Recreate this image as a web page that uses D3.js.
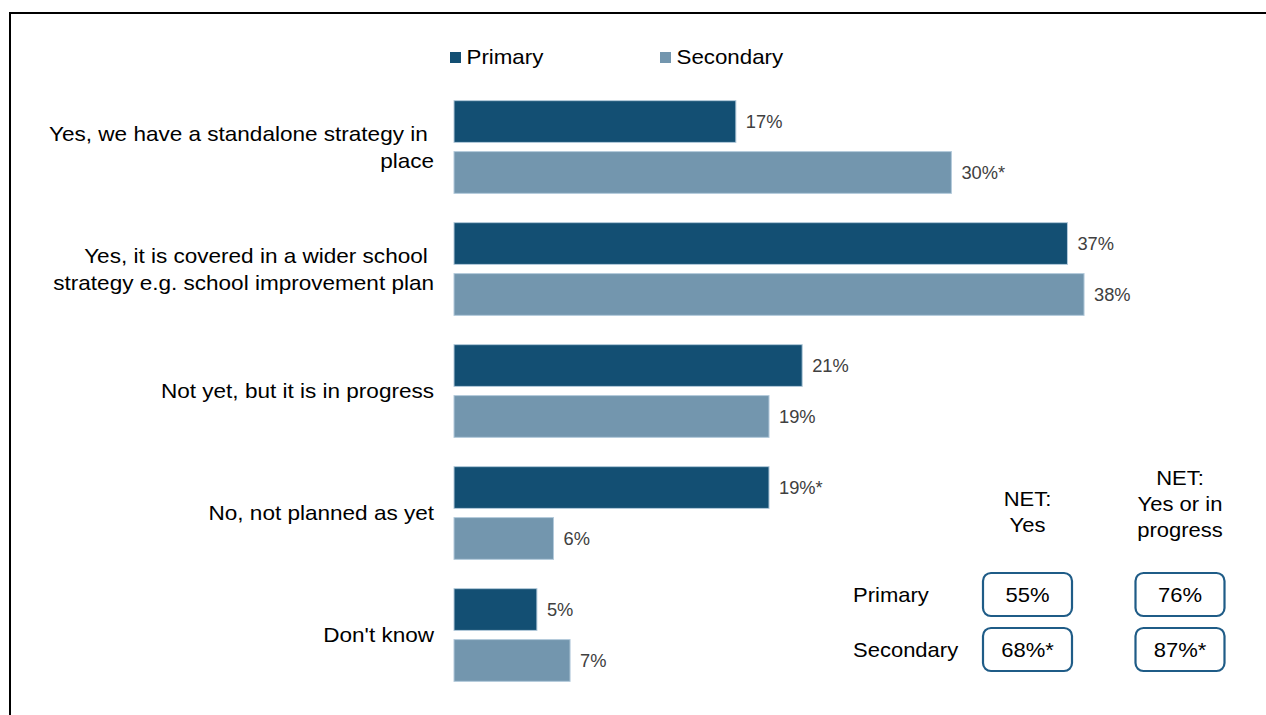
<!DOCTYPE html>
<html>
<head>
<meta charset="utf-8">
<script src="https://cdn.jsdelivr.net/npm/d3@7"></script>
<style>
  html, body { margin: 0; padding: 0; background: #fff; }
  svg { display: block; }
  text { font-family: "Liberation Sans", Arial, sans-serif; white-space: pre; }
</style>
</head>
<body>
<svg id="chart" width="1266" height="715"></svg>
<script>
// Survey responses: does the school have a strategy in place?
const categories = [
  "Yes, we have a standalone strategy in place",
  "Yes, it is covered in a wider school strategy e.g. school improvement plan",
  "Not yet, but it is in progress",
  "No, not planned as yet",
  "Don't know"
];
// wrapped lines keep the trailing space left by the line break
const categoryLines = [
  ["Yes, we have a standalone strategy in ", "place"],
  ["Yes, it is covered in a wider school ", "strategy e.g. school improvement plan"],
  ["Not yet, but it is in progress"],
  ["No, not planned as yet"],
  ["Don't know"]
];
const seriesNames = ["Primary", "Secondary"];
const primaryValues = [17, 37, 21, 19, 5];
const secondaryValues = [30, 38, 19, 6, 7];
// significance markers appended to the value labels
const primaryFlags = ["", "", "", "*", ""];
const secondaryFlags = ["*", "", "", "", ""];

// NET summary table
const netHeaders = [["NET:", "Yes"], ["NET:", "Yes or in", "progress"]];
const netRowNames = ["Primary", "Secondary"];
const netPrimary = ["55%", "76%"];
const netSecondary = ["68%*", "87%*"];

const colors = { Primary: "#134f73", Secondary: "#7396ae" };
const STRETCH = 1.1;

const svg = d3.select("#chart");

// outer frame (only top and left edges fall inside the view)
svg.append("rect")
  .attr("x", 10).attr("y", 13)
  .attr("width", 1300).attr("height", 800)
  .attr("fill", "none").attr("stroke", "#000").attr("stroke-width", 2);

// helper for the slightly wide label text
function wideText(g, x, y, str, anchor, size, color) {
  return g.append("text")
    .attr("transform", `translate(${x},${y}) scale(${STRETCH},1)`)
    .attr("text-anchor", anchor)
    .attr("font-size", size)
    .attr("fill", color || "#000")
    .text(str);
}

// scales
const x = d3.scaleLinear().domain([0, 40]).range([454, 454 + 40 * 16.58]);
const y = d3.scaleBand().domain(categories).range([86, 696])
  .paddingInner(0.24).paddingOuter(0.12);
const ySub = d3.scaleBand().domain(seriesNames).range([0, y.bandwidth()])
  .paddingInner(0.18);

// legend
const legend = svg.append("g");
const legendX = [450, 660];
seriesNames.forEach((s, i) => {
  legend.append("rect")
    .attr("x", legendX[i]).attr("y", 52)
    .attr("width", 11).attr("height", 11)
    .attr("fill", colors[s]);
  wideText(legend, legendX[i] + 16.5, 63.5, s, "start", 20.3);
});

// bars
const rows = categories.map((c, i) => ({
  cat: c,
  lines: categoryLines[i],
  vals: [
    { s: "Primary", v: primaryValues[i], flag: primaryFlags[i] },
    { s: "Secondary", v: secondaryValues[i], flag: secondaryFlags[i] }
  ]
}));

const groups = svg.append("g").selectAll("g")
  .data(rows).join("g")
  .attr("transform", d => `translate(0,${y(d.cat)})`);

groups.selectAll("rect")
  .data(d => d.vals).join("rect")
  .attr("x", x(0))
  .attr("y", d => ySub(d.s))
  .attr("width", d => x(d.v) - x(0))
  .attr("height", ySub.bandwidth())
  .attr("fill", d => colors[d.s])
  .attr("stroke", "#b3cadb")
  .attr("stroke-width", 1);

groups.selectAll("text.val")
  .data(d => d.vals).join("text")
  .attr("class", "val")
  .attr("x", d => x(d.v) + 10)
  .attr("y", d => ySub(d.s) + ySub.bandwidth() / 2 + 6.5)
  .attr("font-size", 18.3)
  .attr("fill", "#404040")
  .text(d => d.v + "%" + d.flag);

// category labels, right aligned against the bars
groups.each(function(d) {
  const g = d3.select(this);
  const lh = 27;
  const mid = y.bandwidth() / 2;
  const n = d.lines.length;
  d.lines.forEach((ln, j) => {
    const by = mid + (j - (n - 1) / 2) * lh + 7;
    wideText(g, 434, by, ln, "end", 20.5);
  });
});

// NET summary table
const table = svg.append("g");
const colCenters = [1027.5, 1180];
const headerBaselines = [[506, 532], [485, 511, 537]];
netHeaders.forEach((lines, c) => {
  lines.forEach((ln, j) => {
    wideText(table, colCenters[c], headerBaselines[c][j], ln, "middle", 20);
  });
});

const rowCenters = [594.5, 649.5];
const tableRows = [netPrimary, netSecondary];
netRowNames.forEach((name, r) => {
  wideText(table, 853, rowCenters[r] + 7, name, "start", 20);
  tableRows[r].forEach((val, c) => {
    table.append("rect")
      .attr("x", colCenters[c] - 44.5)
      .attr("y", rowCenters[r] - 21.5)
      .attr("width", 89).attr("height", 43)
      .attr("rx", 8).attr("ry", 8)
      .attr("fill", "#fff")
      .attr("stroke", "#1f5c87")
      .attr("stroke-width", 2.2);
    wideText(table, colCenters[c], rowCenters[r] + 7, val, "middle", 20);
  });
});
</script>
</body>
</html>
